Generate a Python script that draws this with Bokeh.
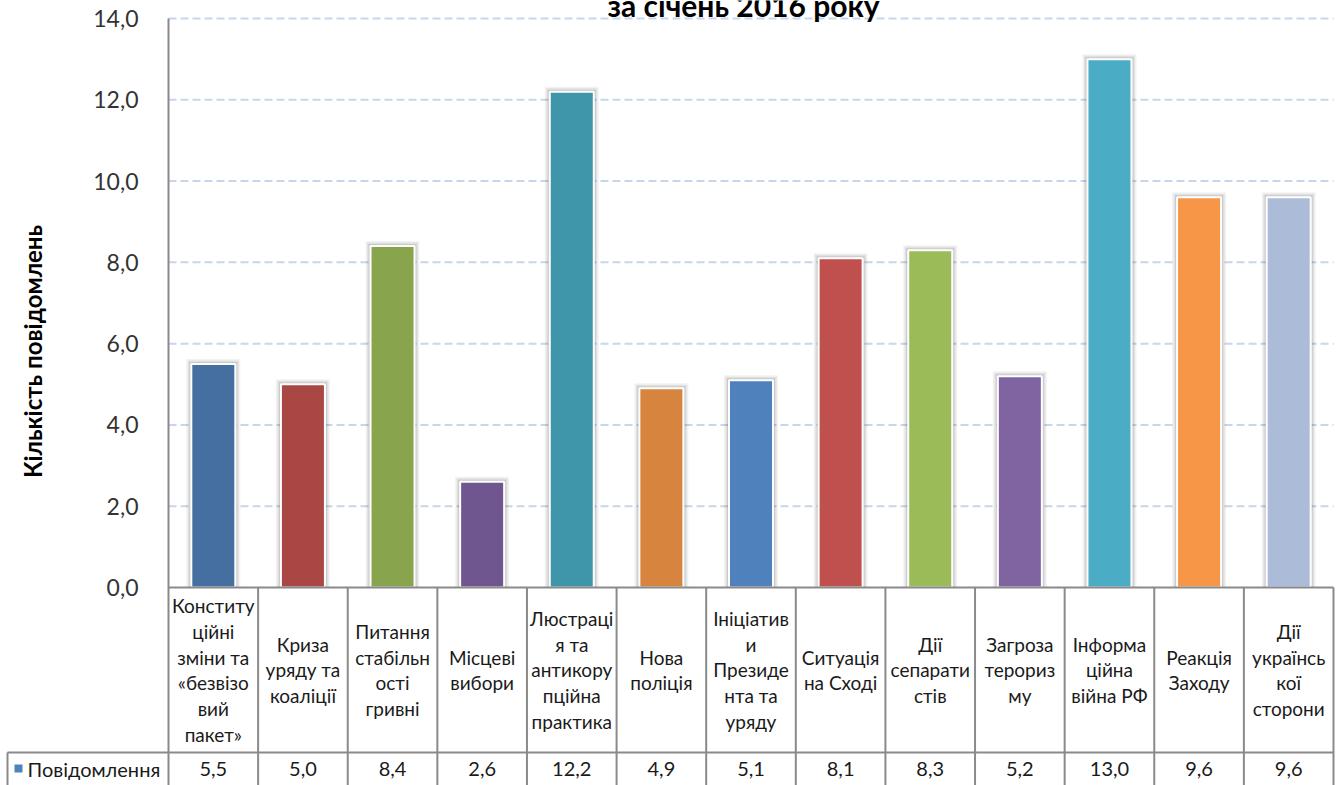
import math

from bokeh.core.properties import value
from bokeh.embed import file_html
from bokeh.models import ColumnDataSource, FixedTicker, Label, Range1d
from bokeh.plotting import figure
from bokeh.resources import INLINE

# ---- data -------------------------------------------------------------
categories = [
    "Конституційні зміни та «безвізовий пакет»",
    "Криза уряду та коаліції",
    "Питання стабільності гривні",
    "Місцеві вибори",
    "Люстрація та антикорупційна практика",
    "Нова поліція",
    "Ініціативи Президента та уряду",
    "Ситуація на Сході",
    "Дії сепаратистів",
    "Загроза тероризму",
    "Інформаційна війна РФ",
    "Реакція Заходу",
    "Дії української сторони",
]
category_labels = [
    "Конститу\nційні\nзміни та\n«безвізо\nвий\nпакет»",
    "Криза\nуряду та\nкоаліції",
    "Питання\nстабільн\nості\nгривні",
    "Місцеві\nвибори",
    "Люстраці\nя та\nантикору\nпційна\nпрактика",
    "Нова\nполіція",
    "Ініціатив\nи\nПрезиде\nнта та\nуряду",
    "Ситуація\nна Сході",
    "Дії\nсепарати\nстів",
    "Загроза\nтерориз\nму",
    "Інформа\nційна\nвійна РФ",
    "Реакція\nЗаходу",
    "Дії\nукраїнсь\nкої\nсторони",
]
values = [5.5, 5.0, 8.4, 2.6, 12.2, 4.9, 5.1, 8.1, 8.3, 5.2, 13.0, 9.6, 9.6]
colors = [
    "#456fa0", "#a84744", "#88a44c", "#70568f", "#3f95aa", "#d6843e",
    "#4f81bd", "#c0504d", "#9bbb59", "#8064a2", "#4bacc6", "#f79646",
    "#abbbd8",
]
series_name = "Повідомлення"
y_ticks = [0, 2, 4, 6, 8, 10, 12, 14]
y_tick_labels = ["0,0", "2,0", "4,0", "6,0", "8,0", "10,0", "12,0", "14,0"]
title_text = "за січень 2016 року"
y_title = "Кількість повідомлень"

FONT = "Lato"
TEXT = "#1a1a1a"
GRID = "#8a8a8a"
value_labels = [f"{v:.1f}".replace(".", ",") for v in values]
n = len(categories)
xs = [i + 0.5 for i in range(n)]

# ---- page geometry (pixels from the top-left corner) ------------------
W, H = 1338, 785
AX_X, AX_RIGHT = 168, 1333          # left / right edge of the category columns
Y_TOP, Y_ZERO = 18, 587             # pixel rows of 14,0 and 0,0
ROW_TOP = 752                       # top of the values row in the table
PX_X = (AX_RIGHT - AX_X) / n
PX_Y = (Y_ZERO - Y_TOP) / y_ticks[-1]


def dx(px):
    return (px - AX_X) / PX_X


def dy(py):
    return y_ticks[-1] - (py - Y_TOP) / PX_Y


p = figure(
    width=W, height=H,
    x_range=Range1d(dx(0), dx(W)), y_range=Range1d(dy(H), dy(0)),
    min_border=0, x_axis_location=None,
    output_backend="svg", toolbar_location=None,
)
p.outline_line_color = None
p.background_fill_color = "white"
p.border_fill_color = "white"
p.xgrid.visible = False
p.ygrid.visible = False

# value axis pinned to the left edge of the category columns
ax = p.yaxis[0]
ax.fixed_location = 0
ax.bounds = (dy(H), y_ticks[-1])
ax.ticker = FixedTicker(ticks=y_ticks)
ax.major_label_overrides = dict(zip(y_ticks, y_tick_labels))
ax.major_label_text_font = FONT
ax.major_label_text_font_size = "23px"
ax.major_label_text_color = "#333333"
ax.major_label_standoff = 24
ax.major_tick_line_color = None
ax.minor_tick_line_color = None
ax.axis_line_color = GRID
ax.axis_line_width = 2

# dashed horizontal gridlines across the plot area
grid_ys = y_ticks[1:]
p.segment(x0=[0] * len(grid_ys), x1=[n] * len(grid_ys), y0=grid_ys, y1=grid_ys,
          line_color="#c6d6ec", line_width=2, line_dash="8 4")

# bars with a soft outer shadow
bar_w = 44 / PX_X
for grow, alpha in [(5, 0.05), (3.5, 0.07), (2, 0.10)]:
    gx, gy = grow / PX_X, grow / PX_Y
    p.quad(
        left=[x - bar_w / 2 - gx for x in xs],
        right=[x + bar_w / 2 + gx for x in xs],
        top=[v + gy for v in values],
        bottom=[0] * n,
        fill_color="black", fill_alpha=alpha, line_color=None,
    )

src = ColumnDataSource(dict(x=xs, top=values, color=colors))
p.vbar(x="x", top="top", width=bar_w, source=src,
       fill_color="color", line_color="white", line_width=2)

# titles
p.add_layout(Label(
    x=dx(743), y=dy(4), text=title_text,
    text_font=FONT, text_font_size="30px", text_font_style="bold",
    text_color="#000000", text_align="center", text_baseline="alphabetic",
))
p.add_layout(Label(
    x=dx(32), y=dy(351), text=y_title, angle=math.pi / 2,
    text_font=FONT, text_font_size="24px", text_font_style="bold",
    text_color="#000000", text_align="center", text_baseline="middle",
))

# ---- data table under the bars ---------------------------------------
bottom = dy(H)
row_y = dy(ROW_TOP)
leg_x = dx(7)
bounds = list(range(1, n + 1))
p.segment(x0=bounds, x1=bounds, y0=[0] * len(bounds), y1=[bottom] * len(bounds),
          line_color=GRID, line_width=2)
p.segment(x0=[0, leg_x], x1=[n, n], y0=[0, row_y], y1=[0, row_y],
          line_color=GRID, line_width=2)
p.segment(x0=[leg_x], x1=[leg_x], y0=[row_y], y1=[bottom],
          line_color=GRID, line_width=2)

p.text(x=xs, y=[dy((Y_ZERO + ROW_TOP) / 2)] * n, text=category_labels,
       text_font=value(FONT), text_font_size="19px", text_color=TEXT,
       text_align="center", text_baseline="middle", text_line_height=1.12)

row_mid = dy(768)
p.text(x=xs, y=[row_mid] * n, text=value_labels,
       text_font=value(FONT), text_font_size="20px", text_color=TEXT,
       text_align="center", text_baseline="middle")

p.scatter(x=[dx(18)], y=[row_mid], marker="square", size=8,
          fill_color=colors[6], line_color=None)
p.text(x=[dx(27)], y=[row_mid], text=[series_name],
       text_font=value(FONT), text_font_size="20px", text_color=TEXT,
       text_align="left", text_baseline="middle")

open("out.html", "w").write(file_html(p, INLINE))
